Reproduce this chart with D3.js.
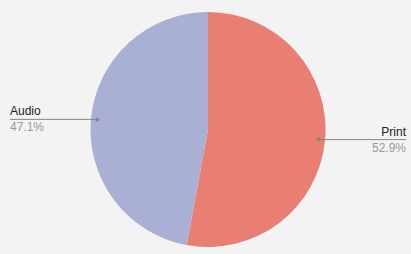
<!DOCTYPE html>
<html><head><meta charset="utf-8">
<script src="https://cdn.jsdelivr.net/npm/d3@7"></script>
<style>html,body{margin:0;padding:0;background:#f3f3f3;}svg{display:block;font-family:"Liberation Sans",Arial,sans-serif;}</style>
</head><body>
<script>
const categories = ["Print", "Audio"];
const values = [52.9, 47.1];
const colors = ["#e97e72", "#a9b0d3"];

const W = 411, H = 254, cx = 208, cy = 129.5, R = 117.5;
const svg = d3.select("body").append("svg").attr("width", W).attr("height", H);
svg.append("rect").attr("width", W).attr("height", H).attr("fill", "#f3f3f3");
const data = categories.map((c, i) => ({cat: c, val: values[i], color: colors[i]}));
const pie = d3.pie().value(d => d.val).sort(null);
const arcs = pie(data);
const arc = d3.arc().innerRadius(0).outerRadius(R);
const g = svg.append("g").attr("transform", `translate(${cx},${cy})`);
g.selectAll("path").data(arcs).join("path").attr("d", arc).attr("fill", d => d.data.color);

const labelArc = d3.arc().innerRadius(R * 0.945).outerRadius(R * 0.945);
arcs.forEach(a => {
  const [px, py] = labelArc.centroid(a);
  const x = cx + px, y = cy + py;
  const right = x > cx;
  const ex = right ? 406 : 10;
  svg.append("line").attr("x1", x).attr("y1", y).attr("x2", ex).attr("y2", y)
    .attr("stroke", "#888").attr("stroke-width", 1);
  svg.append("circle").attr("cx", x).attr("cy", y).attr("r", 2).attr("fill", "#888");
  const anchor = right ? "end" : "start";
  svg.append("text").attr("x", ex).attr("y", y - 4).attr("text-anchor", anchor)
    .attr("font-size", 12).attr("fill", "#222").text(a.data.cat);
  svg.append("text").attr("x", ex).attr("y", y + 12).attr("text-anchor", anchor)
    .attr("font-size", 12).attr("fill", "#999").text(d3.format(".1f")(a.data.val) + "%");
});
</script>
</body></html>
